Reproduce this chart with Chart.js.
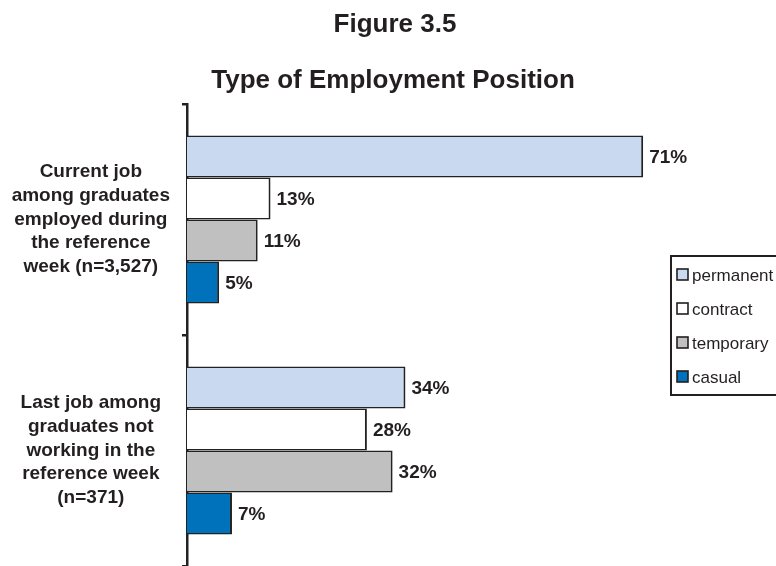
<!DOCTYPE html>
<html>
<head>
<meta charset="utf-8">
<title>Type of Employment Position</title>
<script src="https://cdn.jsdelivr.net/npm/chart.js@4.4.1/dist/chart.umd.min.js"></script>
<style>
  html, body { margin: 0; padding: 0; background: #ffffff; }
  #wrap { width: 776px; height: 566px; overflow: hidden; }
</style>
</head>
<body>
<div id="wrap"><canvas id="chart" width="776" height="566"></canvas></div>
<script>
// Category labels (one array entry per line)
const categories = [
  ["Current job", "among graduates", "employed during", "the reference", "week (n=3,527)"],
  ["Last job among", "graduates not", "working in the", "reference week", "(n=371)"]
];
const seriesNames = ["permanent", "contract", "temporary", "casual"];

// Percent of graduates by type of position
const permanent = [71, 34];
const contract  = [13, 28];
const temporary = [11, 32];
const casual    = [5, 7];

const figureLabel = "Figure 3.5";
const chartTitle = "Type of Employment Position";

const FONT = "'Liberation Sans', Arial, sans-serif";
const INK = "#231f20";
const fills = ["#c9daf0", "#ffffff", "#c0c0c0", "#0072bc"];
const values = [permanent, contract, temporary, casual];

// Headings above the plot
const headings = {
  id: "headings",
  afterDraw(chart) {
    const ctx = chart.ctx;
    ctx.save();
    ctx.fillStyle = INK;
    ctx.textAlign = "center";
    ctx.textBaseline = "alphabetic";
    ctx.font = "bold 26px " + FONT;
    ctx.fillText(figureLabel, 395, 32);
    ctx.fillText(chartTitle, 393, 88);
    ctx.restore();
  }
};

// Percent labels at the end of each bar
const valueLabels = {
  id: "valueLabels",
  afterDatasetsDraw(chart) {
    const ctx = chart.ctx;
    ctx.save();
    ctx.fillStyle = INK;
    ctx.font = "bold 19px " + FONT;
    ctx.textAlign = "left";
    ctx.textBaseline = "middle";
    chart.data.datasets.forEach((ds, i) => {
      chart.getDatasetMeta(i).data.forEach((bar, j) => {
        ctx.fillText(ds.data[j] + "%", bar.x + 6, bar.y + 1);
      });
    });
    ctx.restore();
  }
};

// Boxed legend on the right
const boxLegend = {
  id: "boxLegend",
  afterDraw(chart) {
    const ctx = chart.ctx;
    const left = 671, top = 256, bottom = 395;
    ctx.save();
    ctx.strokeStyle = INK;
    ctx.lineWidth = 2;
    ctx.strokeRect(left, top, 140, bottom - top);
    ctx.font = "17px " + FONT;
    ctx.textBaseline = "middle";
    ctx.textAlign = "left";
    chart.data.datasets.forEach((ds, i) => {
      const cy = 275 + i * 34;
      ctx.fillStyle = ds.backgroundColor;
      ctx.fillRect(677, cy - 6, 11, 11);
      ctx.lineWidth = 1.6;
      ctx.strokeStyle = INK;
      ctx.strokeRect(677, cy - 6, 11, 11);
      ctx.fillStyle = INK;
      ctx.fillText(ds.label, 692, cy + 1);
    });
    ctx.restore();
  }
};

new Chart(document.getElementById("chart"), {
  type: "bar",
  data: {
    labels: categories,
    datasets: seriesNames.map((name, i) => ({
      label: name,
      data: values[i],
      backgroundColor: fills[i],
      borderColor: "#222222",
      borderWidth: { top: 1.5, bottom: 1.5, right: 2, left: 0 },
      borderSkipped: false,
      barPercentage: 1,
      categoryPercentage: 0.727
    }))
  },
  options: {
    indexAxis: "y",
    responsive: false,
    animation: false,
    layout: { padding: { top: 104, right: 75, bottom: 0, left: 0 } },
    plugins: {
      legend: { display: false },
      title: { display: false },
      tooltip: { enabled: false }
    },
    scales: {
      x: {
        display: false,
        min: 0,
        max: 80
      },
      y: {
        z: 1,
        offset: true,
        afterFit(scale) {
          scale.width = 187;
          scale.paddingTop = 0;
          scale.paddingBottom = 0;
        },
        border: { display: true, color: "#222222", width: 2.5 },
        grid: {
          display: true,
          offset: true,
          drawOnChartArea: false,
          drawTicks: true,
          tickLength: 5,
          color: "#222222",
          lineWidth: 2.5
        },
        ticks: {
          crossAlign: "center",
          padding: 12,
          color: INK,
          font: { family: FONT, size: 19, weight: "bold", lineHeight: 1.25 }
        }
      }
    }
  },
  plugins: [headings, valueLabels, boxLegend]
});
</script>
</body>
</html>
